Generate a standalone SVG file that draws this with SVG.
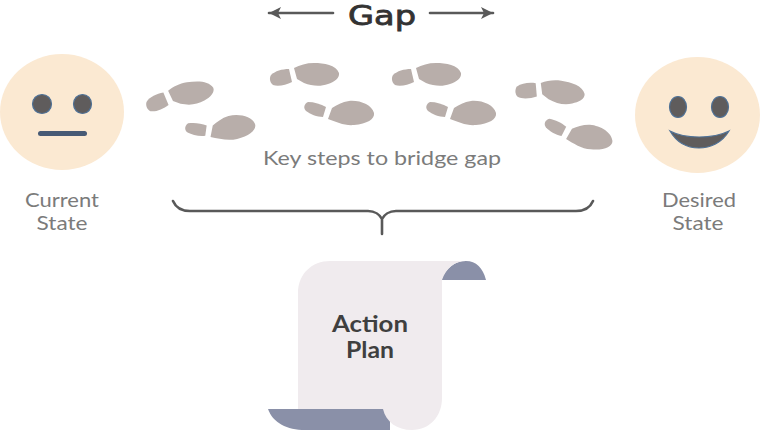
<svg xmlns="http://www.w3.org/2000/svg" xmlns:xlink="http://www.w3.org/1999/xlink" width="761" height="430" viewBox="0 0 761 430">
<style>
text{font-family:"Lato","Noto Sans","Liberation Sans",sans-serif;text-anchor:middle}
.lbl{font-size:20px;fill:#7b7b7b}
.bold{font-size:23px;font-weight:700;fill:#3f3f3f}
.gap{font-family:"DejaVu Sans","Liberation Sans",sans-serif;font-size:27px;fill:#333;stroke:#333;stroke-width:0.8}
.face{fill:#fbe9d2}
.feat{fill:#5f5c5c;stroke:#4f7196;stroke-width:1.2}
.wire{fill:none;stroke:#595959;stroke-width:2.6;stroke-linecap:round}
.foot{fill:#b8aeaa}
</style>
<defs>
<marker id="ah" markerUnits="userSpaceOnUse" markerWidth="13" markerHeight="13" refX="12" refY="6.5" orient="auto-start-reverse"><path d="M0,0.5 L12,6.5 L0,12.5 L3,6.5Z" fill="#595959"/></marker>
<g id="stepA" class="foot">
<path d="M24,5 C30,2 36,0 44,0 C54,0 66,2 69,10 C70,15 64,19 58,21 C50,24 42,23 34,20 L27,16 Z"/>
<path d="M19,6 L22,19 C16,22 8,24 3,22 C0,20 -1,15 1,12 C5,8 12,6 19,6Z"/>
</g>
<g id="stepB" class="foot">
<path d="M24,18 L28,7 C33,4 38,1 45,0 C56,-1 68,4 70,12 C71,18 63,23 50,24 C41,25 32,21 24,18Z"/>
<path d="M4,1 C10,1 17,3 22,6 L19,16 C13,16 6,13 2,10 C-1,7 0,3 4,1Z"/>
</g>
</defs>
<g id="gap-label">
<text class="gap" x="382" y="24.500" textLength="68" lengthAdjust="spacingAndGlyphs">Gap</text>
</g>
<g id="current-state">
<ellipse class="face" cx="62" cy="112" rx="62" ry="58"/>
<ellipse class="feat" cx="42" cy="104" rx="9.500" ry="9.500"/>
<ellipse class="feat" cx="82.500" cy="104" rx="9" ry="9.500"/>
<rect x="38" y="131" width="49" height="5" rx="2.500" fill="#475a75"/>
<text class="lbl" x="62" y="207" textLength="74" lengthAdjust="spacingAndGlyphs">Current</text>
<text class="lbl" x="62" y="230" textLength="51" lengthAdjust="spacingAndGlyphs">State</text>
</g>
<g id="desired-state">
<ellipse class="face" cx="697.500" cy="115" rx="62.500" ry="58"/>
<ellipse class="feat" cx="678" cy="107" rx="8.500" ry="10.500"/>
<ellipse class="feat" cx="720" cy="107" rx="8.500" ry="10.500"/>
<path class="feat" d="M670,131 C685,139 713,139 729,131 C722,143 710,148 699,148 C688,148 677,143 670,131Z"/>
<text class="lbl" x="699" y="207" textLength="74" lengthAdjust="spacingAndGlyphs">Desired</text>
<text class="lbl" x="698" y="230" textLength="51" lengthAdjust="spacingAndGlyphs">State</text>
</g>
<g id="footsteps">
<use xlink:href="#stepA" href="#stepA" transform="translate(143.600,90) rotate(-10)"/>
<use xlink:href="#stepB" href="#stepB" transform="translate(184,123) rotate(-9)"/>
<use xlink:href="#stepA" href="#stepA" transform="translate(270,63)"/>
<use xlink:href="#stepB" href="#stepB" transform="translate(304,101)"/>
<use xlink:href="#stepA" href="#stepA" transform="translate(392,63)"/>
<use xlink:href="#stepB" href="#stepB" transform="translate(426,101)"/>
<use xlink:href="#stepA" href="#stepA" transform="translate(517.700,74.600) rotate(8)"/>
<use xlink:href="#stepB" href="#stepB" transform="translate(545.600,117) rotate(10)"/>
<text class="lbl" x="382" y="165" textLength="238" lengthAdjust="spacingAndGlyphs">Key steps to bridge gap</text>
</g>
<g id="connectors">
<line class="wire" x1="333" y1="13" x2="269" y2="13" marker-end="url(#ah)"/>
<line class="wire" x1="430" y1="13" x2="493" y2="13" marker-end="url(#ah)"/>
<path class="wire" d="M173,201 C176,208 182,211 190,211 H368 C375,211 380,215 382,219 C384,215 389,211 396,211 H576 C584,211 590,208 593,201 M382,219 V234"/>
</g>
<g id="action-plan">
<path d="M441,280 C446,268 455,261 466,261 C476,261 483,268 486,280Z" fill="#8a90a8"/>
<path d="M268,409 H390 V430 H305 C287,430 273,423 268,409Z" fill="#8a90a8"/>
<path d="M330,261 H466 C455,261 446,268 442,280 V398 C442,416 430,430 412,430 C397,430 386,422 383,409 H298 V293 C298,274 312,261 330,261Z" fill="#f0ebee"/>
<text class="bold" x="370" y="332" textLength="76" lengthAdjust="spacingAndGlyphs">Action</text>
<text class="bold" x="370" y="358" textLength="48" lengthAdjust="spacingAndGlyphs">Plan</text>
</g>
</svg>
